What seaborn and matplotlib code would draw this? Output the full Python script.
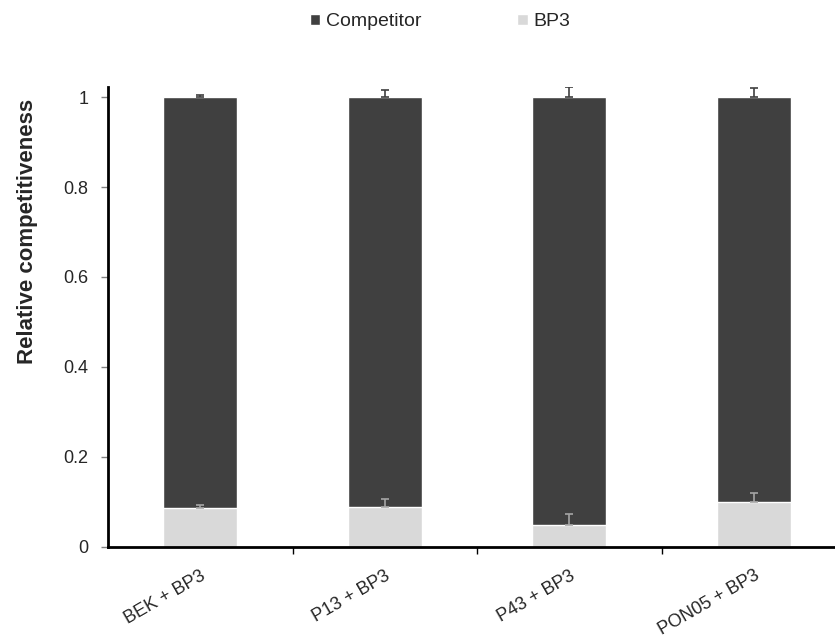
import matplotlib
matplotlib.use("Agg")
import matplotlib.pyplot as plt
import seaborn as sns
import numpy as np
import pandas as pd
from matplotlib.patches import Patch

sns.set_style("white")
plt.rcParams['font.family'] = ['Liberation Sans', 'DejaVu Sans']

categories = ["BEK + BP3", "P13 + BP3", "P43 + BP3", "PON05 + BP3"]
bp3 = [0.085, 0.089, 0.048, 0.100]
bp3_err = [0.007, 0.017, 0.024, 0.020]
competitor = [0.915, 0.911, 0.952, 0.900]
competitor_err = [0.006, 0.017, 0.023, 0.021]
yticks = [0, 0.2, 0.4, 0.6, 0.8, 1]
ytick_labels = ["0", "0.2", "0.4", "0.6", "0.8", "1"]

dark = "#404040"
light = "#d9d9d9"

df = pd.DataFrame({"cat": categories, "bp3": bp3, "comp": competitor})
df["total"] = df["bp3"] + df["comp"]

fig = plt.figure(figsize=(8.35, 6.41), dpi=100)
ax = fig.add_axes([108/835, 1-546.5/641, 1-108/835, (546.5-87)/641])

sns.barplot(data=df, x="cat", y="total", color=dark, width=0.4, ax=ax,
            saturation=1, errorbar=None)
sns.barplot(data=df, x="cat", y="bp3", color=light, width=0.4, ax=ax,
            saturation=1, errorbar=None)

xpos = np.arange(len(categories))
ax.errorbar(xpos, df["total"], yerr=[np.zeros(len(xpos)), competitor_err],
            fmt="none", ecolor=dark, elinewidth=1.2, capsize=3, capthick=1.2)
ax.errorbar(xpos, df["bp3"], yerr=[np.zeros(len(xpos)), bp3_err],
            fmt="none", ecolor="#a6a6a6", elinewidth=1.2, capsize=3, capthick=1.2)

ax.set_xlim(-0.5, 3.44)
ax.set_ylim(0, 1.023)
ax.set_yticks(yticks)
ax.set_yticklabels(ytick_labels, fontsize=13)
ax.set_xticks([0.5, 1.5, 2.5])
ax.set_xticks(xpos, minor=True)
ax.set_xticklabels([])
ax.set_xticklabels(categories, minor=True, rotation=30, ha="right",
                   rotation_mode="anchor", fontsize=13)
ax.tick_params(axis="x", which="minor", length=0, pad=15)
ax.tick_params(axis="x", which="major", direction="out", length=5, width=1, color="black", bottom=True)
ax.tick_params(axis="y", direction="out", length=5, width=1, color="#808080", left=True, pad=9)
ax.set_xlabel("")
ax.set_ylabel("Relative competitiveness", fontsize=16, fontweight="bold")
ax.yaxis.set_label_coords(-(108 - 38) / (835 - 108), (546.5 - 231) / (546.5 - 87))

for s in ["top", "right"]:
    ax.spines[s].set_visible(False)
ax.spines["left"].set_color("black")
ax.spines["left"].set_linewidth(2)
ax.spines["bottom"].set_color("black")
ax.spines["bottom"].set_linewidth(2)

handles = [Patch(facecolor=dark, label="Competitor"), Patch(facecolor=light, label="BP3")]
fig.legend(handles=handles, loc="center", bbox_to_anchor=(440/835, 1-22/641), ncol=2,
           frameon=False, fontsize=14, handlelength=0.55, handleheight=0.55,
           handletextpad=0.3, columnspacing=4.9)

fig.savefig("out.png", dpi=100)
